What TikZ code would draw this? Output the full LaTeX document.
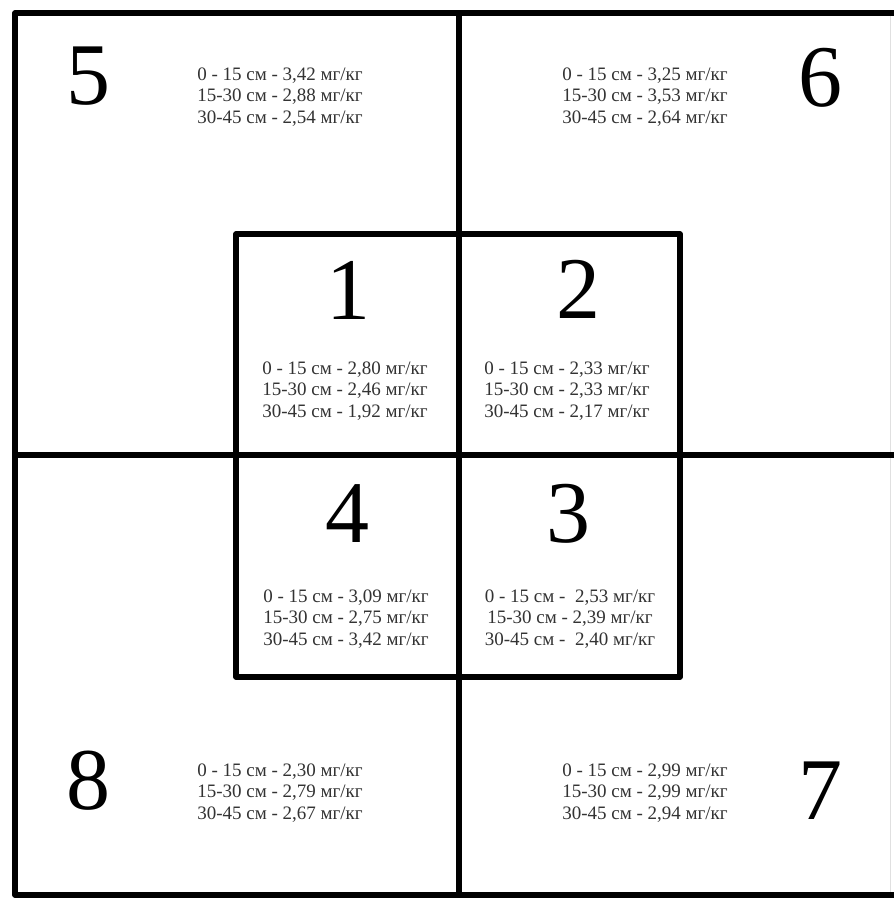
\documentclass[tikz,border=0pt]{standalone}
\usepackage{fontspec}
\setmainfont{Liberation Serif}
\begin{document}
\begin{tikzpicture}[x=1pt,y=-1pt,
  grid/.style={line width=5.5pt,black,line join=round,line cap=rect},
  faint/.style={line width=1pt,black!12},
  bignum/.style={inner sep=0pt,font=\fontsize{88}{88}\selectfont},
  vals/.style={inner sep=0pt,align=center,text=black!80,font=\fontsize{19}{21.5}\selectfont}]
\useasboundingbox (0,0) rectangle (894,898);
\fill[white] (0,0) rectangle (894,898);
% outer frame
\coordinate (tl) at (15,13);
\coordinate (tr) at (894,13);
\coordinate (bl) at (15,895);
\coordinate (br) at (894,895);
\coordinate (rt) at (890,13);
\coordinate (rb) at (890,895);
\coordinate (mt) at (459,13);
\coordinate (mb) at (459,895);
\coordinate (ml) at (15,455);
\coordinate (mr) at (894,455);
\draw[faint] (rt) -- (rb);
\draw[grid] (tr) -- (tl) -- (bl) -- (br);
\draw[grid] (mt) -- (mb);
\draw[grid] (ml) -- (mr);
% inner square
\coordinate (itl) at (236,234);
\coordinate (ibr) at (680,677);
\draw[grid] (itl) rectangle (ibr);
% numbers
\node[bignum] (n5) at (88,76) {5};
\node[bignum] (n6) at (820,78) {6};
\node[bignum] (n1) at (348,290) {1};
\node[bignum] (n2) at (578,289) {2};
\node[bignum] (n4) at (347,514) {4};
\node[bignum] (n3) at (568,514) {3};
\node[bignum] (n8) at (88,781) {8};
\node[bignum] (n7) at (820,791) {7};
% values
\node[vals] (v5) at (280,97) {0 - 15 см - 3,42 мг/кг\\15-30 см - 2,88 мг/кг\\30-45 см - 2,54 мг/кг};
\node[vals] (v6) at (645,97) {0 - 15 см - 3,25 мг/кг\\15-30 см - 3,53 мг/кг\\30-45 см - 2,64 мг/кг};
\node[vals] (v1) at (345,391) {0 - 15 см - 2,80 мг/кг\\15-30 см - 2,46 мг/кг\\30-45 см - 1,92 мг/кг};
\node[vals] (v2) at (567,391) {0 - 15 см - 2,33 мг/кг\\15-30 см - 2,33 мг/кг\\30-45 см - 2,17 мг/кг};
\node[vals] (v4) at (346,619) {0 - 15 см - 3,09 мг/кг\\15-30 см - 2,75 мг/кг\\30-45 см - 3,42 мг/кг};
\node[vals] (v3) at (570,619) {0 - 15 см -\ \ 2,53 мг/кг\\15-30 см - 2,39 мг/кг\\30-45 см -\ \ 2,40 мг/кг};
\node[vals] (v8) at (280,793) {0 - 15 см - 2,30 мг/кг\\15-30 см - 2,79 мг/кг\\30-45 см - 2,67 мг/кг};
\node[vals] (v7) at (645,793) {0 - 15 см - 2,99 мг/кг\\15-30 см - 2,99 мг/кг\\30-45 см - 2,94 мг/кг};
\end{tikzpicture}
\end{document}
